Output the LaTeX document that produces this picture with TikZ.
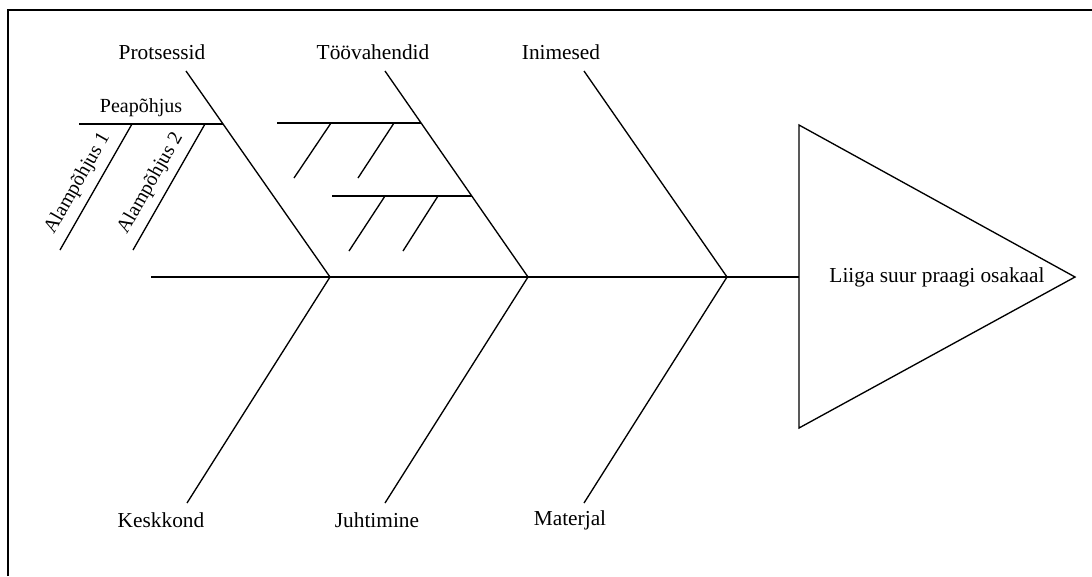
\documentclass[tikz,border=0pt]{standalone}
\usepackage{fontspec}
\setmainfont{Liberation Serif}
\usepackage{tikz}
\usetikzlibrary{calc}
\tikzset{
  bone/.style={line width=1pt},
  frameline/.style={line width=1.5pt},
  cause/.style={font=\fontsize{16}{19}\selectfont, inner sep=1pt},
  subcause/.style={font=\fontsize{15}{18}\selectfont, inner sep=1pt},
  effect/.style={font=\fontsize{16}{19}\selectfont, inner sep=1pt}
}

\begin{document}
\begin{tikzpicture}[x=0.75pt, y=-0.75pt]
    \useasboundingbox (0,0) rectangle (1092,576);
    % frame, cut at right and bottom
    \draw[frameline] (8,576) -- (8,10) -- (1092,10);

    % spine and head
    \coordinate (tail) at (151,277);
    \coordinate (j1) at (330,277);
    \coordinate (j2) at (528,277);
    \coordinate (j3) at (727,277);
    \coordinate (headL) at (799,277);
    \coordinate (headT) at (799,125);
    \coordinate (headB) at (799,428);
    \coordinate (headR) at (1075,277);
    \draw[bone] (tail) -- (headL);
    \draw[bone] (headT) -- (headR) -- (headB) -- cycle;
    \node[effect] (effect) at (937,277) {Liiga suur praagi osakaal};

    % upper bones
    \coordinate (u1) at (186,71);
    \coordinate (u2) at (385,71);
    \coordinate (u3) at (584,71);
    \draw[bone] (u1) -- (j1);
    \draw[bone] (u2) -- (j2);
    \draw[bone] (u3) -- (j3);
    \node[cause] (protsessid) at (162,52) {Protsessid};
    \node[cause] (toovahendid) at (373,52) {Töövahendid};
    \node[cause] (inimesed) at (561,52) {Inimesed};

    % lower bones
    \coordinate (d1) at (187,503);
    \coordinate (d2) at (385,503);
    \coordinate (d3) at (584,503);
    \draw[bone] (j1) -- (d1);
    \draw[bone] (j2) -- (d2);
    \draw[bone] (j3) -- (d3);
    \node[cause] (keskkond) at (161,520) {Keskkond};
    \node[cause] (juhtimine) at (377,520) {Juhtimine};
    \node[cause] (materjal) at (570,520) {Materjal};

    % Protsessid: main cause with two sub causes
    \coordinate (p0) at (79,124);
    \coordinate (p1) at (223,124);
    \coordinate (a1t) at (132,124);
    \coordinate (a1b) at (60,250);
    \coordinate (a2t) at (205,124);
    \coordinate (a2b) at (133,250);
    \draw[bone] (p0) -- (p1);
    \node[subcause] (peapohjus) at (141,108) {Peapõhjus};
    \draw[bone] (a1b) -- (a1t) node[pos=0.46, sloped, above=5pt, subcause] (alam1) {Alampõhjus 1};
    \draw[bone] (a2b) -- (a2t) node[pos=0.46, sloped, above=5pt, subcause] (alam2) {Alampõhjus 2};

    % Töövahendid: two unlabelled main causes
    \coordinate (t0) at (277,123);
    \coordinate (t1) at (421,123);
    \coordinate (b1t) at (331,123);
    \coordinate (b1b) at (294,178);
    \coordinate (b2t) at (394,123);
    \coordinate (b2b) at (358,178);
    \draw[bone] (t0) -- (t1);
    \draw[bone] (b1t) -- (b1b);
    \draw[bone] (b2t) -- (b2b);
    \coordinate (t2) at (332,196);
    \coordinate (t3) at (472,196);
    \coordinate (b3t) at (385,196);
    \coordinate (b3b) at (349,251);
    \coordinate (b4t) at (438,196);
    \coordinate (b4b) at (403,251);
    \draw[bone] (t2) -- (t3);
    \draw[bone] (b3t) -- (b3b);
    \draw[bone] (b4t) -- (b4b);
\end{tikzpicture}
\end{document}
